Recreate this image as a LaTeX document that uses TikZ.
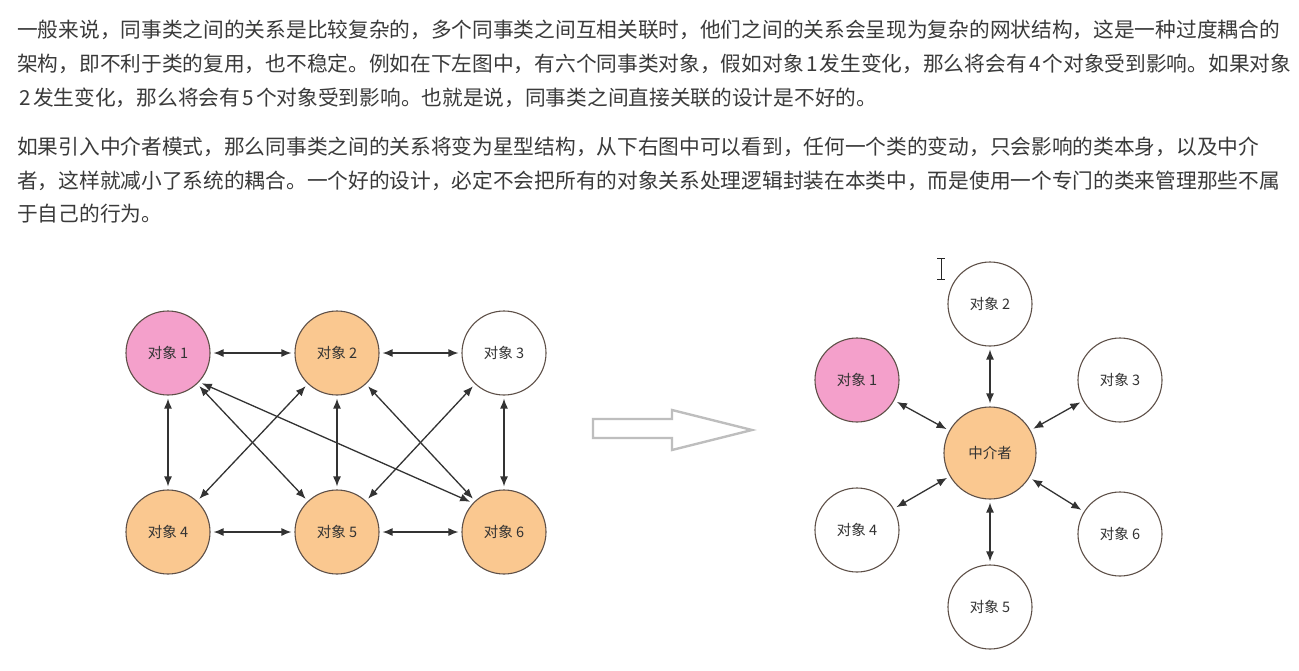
\documentclass[tikz,border=0pt]{standalone}
\usepackage{fontspec}
\newfontfamily\cjk{Noto Sans CJK SC}
\usetikzlibrary{arrows.meta}
\definecolor{txt}{HTML}{3A3A3A}
\definecolor{pinkf}{HTML}{F4A0CB}
\definecolor{orangef}{HTML}{FAC890}
\definecolor{edgec}{HTML}{5E5048}
\definecolor{arrowgray}{HTML}{BEBEBE}
\newcommand{\dg}[1]{\makebox[16pt]{#1}}
\begin{document}
\begin{tikzpicture}[x=1pt,y=-1pt,
  para/.style={anchor=west,inner sep=0pt,font=\cjk\fontsize{20.7}{20.7}\selectfont,text=txt},
  obj/.style={circle,draw=edgec,line width=1.1pt,minimum size=84pt,inner sep=0pt,
    font=\cjk\fontsize{14.5}{14.5}\selectfont,text=black!80},
  pinkobj/.style={obj,fill=pinkf},
  orobj/.style={obj,fill=orangef},
  whobj/.style={obj,fill=white},
  link/.style={line width=1.3pt,draw=black!80,
    {Latex[length=10pt,width=8pt]}-{Latex[length=10pt,width=8pt]},
    shorten <=3pt, shorten >=3pt}
]
\useasboundingbox[fill=white] (0,0) rectangle (1299,670);

% paragraphs
\node[para] (p1) at (17,30) {一般来说，同事类之间的关系是比较复杂的，多个同事类之间互相关联时，他们之间的关系会呈现为复杂的网状结构，这是一种过度耦合的};
\node[para] (p2) at (17,64) {架构，即不利于类的复用，也不稳定。例如在下左图中，有六个同事类对象，假如对象\dg{1}发生变化，那么将会有\dg{4}个对象受到影响。如果对象};
\node[para] (p3) at (17,98) {\dg{2}发生变化，那么将会有\dg{5}个对象受到影响。也就是说，同事类之间直接关联的设计是不好的。};
\node[para] (q1) at (17,147) {如果引入中介者模式，那么同事类之间的关系将变为星型结构，从下右图中可以看到，任何一个类的变动，只会影响的类本身，以及中介};
\node[para] (q2) at (17,181) {者，这样就减小了系统的耦合。一个好的设计，必定不会把所有的对象关系处理逻辑封装在本类中，而是使用一个专门的类来管理那些不属};
\node[para] (q3) at (17,214) {于自己的行为。};

% left diagram
\node[pinkobj] (a1) at (168,353) {对象 1};
\node[orobj]   (a2) at (337,353) {对象 2};
\node[whobj]   (a3) at (504,353) {对象 3};
\node[orobj]   (a4) at (168,532) {对象 4};
\node[orobj]   (a5) at (337,532) {对象 5};
\node[orobj]   (a6) at (504,532) {对象 6};

\draw[link] (a1) -- (a2);
\draw[link] (a2) -- (a3);
\draw[link] (a4) -- (a5);
\draw[link] (a5) -- (a6);
\draw[link] (a1) -- (a4);
\draw[link] (a2) -- (a5);
\draw[link] (a3) -- (a6);
\draw[link] (a1) -- (a5);
\draw[link] (a2) -- (a4);
\draw[link] (a2) -- (a6);
\draw[link] (a3) -- (a5);
\draw[link] (a1.-43) -- (a6.137);

% big hollow arrow
\draw[arrowgray,line width=2.4pt,line join=miter]
  (593,419) -- (672,419) -- (672,410) -- (752,430) -- (672,450) -- (672,438) -- (593,438) -- cycle;

% right diagram
\node[obj,fill=orangef,minimum size=92pt] (m) at (990,453) {中介者};
\node[pinkobj] (b1) at (857,380) {对象 1};
\node[whobj]   (b2) at (990,304) {对象 2};
\node[whobj]   (b3) at (1120,380) {对象 3};
\node[whobj]   (b4) at (857,530) {对象 4};
\node[whobj]   (b5) at (990,607) {对象 5};
\node[whobj]   (b6) at (1120,534) {对象 6};

\foreach \n in {b1,b2,b3,b4,b5,b6} \draw[link] (m) -- (\n);

% text cursor
\draw[black!85,line width=0.9pt] (941,258) -- (941,279)
  (937,258) -- (945,258) (937,279) -- (945,279);
\end{tikzpicture}
\end{document}
